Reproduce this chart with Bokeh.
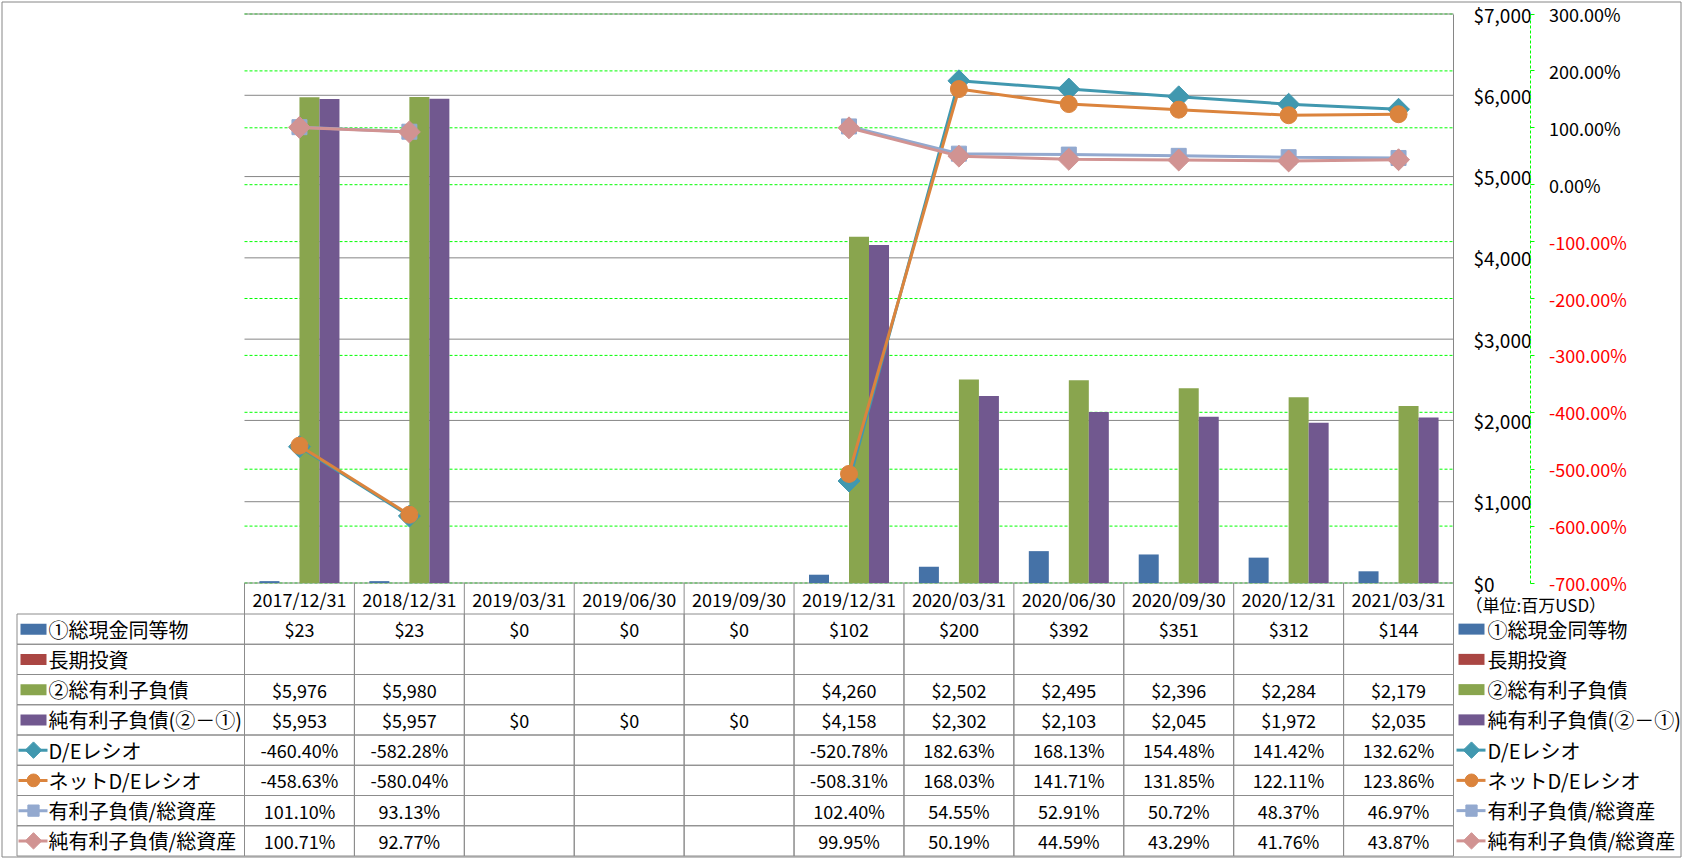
import numpy as np
from bokeh.plotting import figure
from bokeh.models import (ColumnDataSource, Range1d, LinearAxis, FixedTicker,
                          NumeralTickFormatter, PrintfTickFormatter)
from bokeh.transform import dodge
from bokeh.embed import file_html
from bokeh.resources import INLINE
from bokeh.core.properties import value

# ---------------- data ----------------
dates = ["2017/12/31", "2018/12/31", "2019/03/31", "2019/06/30", "2019/09/30",
         "2019/12/31", "2020/03/31", "2020/06/30", "2020/09/30", "2020/12/31", "2021/03/31"]
cash = [23, 23, 0, 0, 0, 102, 200, 392, 351, 312, 144]
lt_invest = [None] * 11
total_debt = [5976, 5980, None, None, None, 4260, 2502, 2495, 2396, 2284, 2179]
net_debt = [5953, 5957, 0, 0, 0, 4158, 2302, 2103, 2045, 1972, 2035]
de_ratio = [-460.40, -582.28, None, None, None, -520.78, 182.63, 168.13, 154.48, 141.42, 132.62]
net_de_ratio = [-458.63, -580.04, None, None, None, -508.31, 168.03, 141.71, 131.85, 122.11, 123.86]
debt_to_assets = [101.10, 93.13, None, None, None, 102.40, 54.55, 52.91, 50.72, 48.37, 46.97]
net_debt_to_assets = [100.71, 92.77, None, None, None, 99.95, 50.19, 44.59, 43.29, 41.76, 43.87]

series_names = ["①総現金同等物", "長期投資", "②総有利子負債", "純有利子負債(②－①)",
                "D/Eレシオ", "ネットD/Eレシオ", "有利子負債/総資産", "純有利子負債/総資産"]
usd_ticks = [0, 1000, 2000, 3000, 4000, 5000, 6000, 7000]
pct_ticks = [-700, -600, -500, -400, -300, -200, -100, 0, 100, 200, 300]
unit_note = "（単位:百万USD）"

# ---------------- styles / layout ----------------
FONT = "Noto Sans CJK JP"
GRAY = "#868686"
TGRAY = "#8c8c8c"
GREEN = "#00FF00"
C_CASH, C_LTI, C_DEBT, C_NET = "#4572A7", "#AA4643", "#89A54E", "#71588F"
C_DE, C_NDE, C_DA, C_NDA = "#4198AF", "#DB843D", "#93A9CF", "#D19392"

W, H = 1685, 858
PAGE = 0
PLOT_L, PLOT_R = 244, 1453      # screen x of plot area
PLOT_T, PLOT_B = 13.5, 582.5    # screen y of plot area
TBL_T, TBL_B = 613.5, 855.5     # screen y of table body
NC = len(dates)
NR = len(series_names)
COLW = (PLOT_R - PLOT_L) / NC
RH = (TBL_B - TBL_T) / NR
USD_MAX, PCT_MIN, PCT_MAX = 7000, -700, 300


def nanify(vals):
    return [np.nan if v is None else v for v in vals]


def sx2u(sx):       # screen x -> column units
    return (sx - PLOT_L) / COLW


def sy2usd(sy):     # screen y -> usd units
    return (PLOT_B - sy) / (PLOT_B - PLOT_T) * USD_MAX


def sy2pct(sy):
    return PCT_MIN + (PLOT_B - sy) / (PLOT_B - PLOT_T) * (PCT_MAX - PCT_MIN)


def sy2row(sy):     # screen y -> table row units (downwards)
    return (sy - TBL_T) / RH


xc = [i + 0.5 for i in range(NC)]
src = ColumnDataSource(dict(
    xc=xc, cash=nanify(cash), lti=nanify(lt_invest), debt=nanify(total_debt),
    net=nanify(net_debt), de=nanify(de_ratio), nde=nanify(net_de_ratio),
    da=nanify(debt_to_assets), nda=nanify(net_debt_to_assets)))

p = figure(width=W, height=H,
           x_range=Range1d(sx2u(PAGE), sx2u(PAGE + W)),
           y_range=Range1d(sy2usd(PAGE + H), sy2usd(PAGE)),
           x_axis_location=None, y_axis_location=None, toolbar_location=None,
           output_backend="svg", min_border=0, outline_line_color=None)
p.extra_y_ranges = {"pct": Range1d(sy2pct(PAGE + H), sy2pct(PAGE)),
                    "tbl": Range1d(sy2row(PAGE + H), sy2row(PAGE))}
p.grid.visible = False

# outer chart border
p.quad(left=[sx2u(1.5)], right=[sx2u(1680.5)], top=[sy2row(1.5)], bottom=[sy2row(856.5)],
       y_range_name="tbl", fill_color=None, line_color=GRAY, line_width=1)

# ---------------- gridlines ----------------
p.segment(x0=[0] * len(pct_ticks), x1=[NC] * len(pct_ticks), y0=pct_ticks, y1=pct_ticks,
          y_range_name="pct", line_color=GREEN, line_dash="3 2", line_width=1)
p.segment(x0=[0] * len(usd_ticks), x1=[NC] * len(usd_ticks), y0=usd_ticks, y1=usd_ticks,
          line_color=GRAY, line_width=1)

# ---------------- bars ----------------
BW = 0.182
for key, col, off in [("cash", C_CASH, -1.5), ("lti", C_LTI, -0.5), ("debt", C_DEBT, 0.5), ("net", C_NET, 1.5)]:
    p.vbar(x=dodge("xc", off * BW), top=key, width=BW, source=src, fill_color=col, line_color=None)

# ---------------- lines ----------------
line_specs = [("de", C_DE, "square", 15.5, np.pi / 4),
              ("nde", C_NDE, "circle", 17, 0.0),
              ("da", C_DA, "square", 15, 0.0),
              ("nda", C_NDA, "square", 15.5, np.pi / 4)]
for key, col, mk, sz, ang in line_specs:
    p.line("xc", key, source=src, y_range_name="pct", line_width=3, line_color=col)
    p.scatter("xc", key, source=src, y_range_name="pct", marker=mk, size=sz, angle=ang,
              fill_color=col, line_color=col)

# ---------------- axes ----------------
ax_usd = LinearAxis(ticker=FixedTicker(ticks=usd_ticks), formatter=NumeralTickFormatter(format="$0,0"),
                    fixed_location=NC, bounds=(0, USD_MAX),
                    axis_line_color=GRAY, major_tick_out=0, major_tick_in=0, minor_tick_line_color=None,
                    major_tick_line_color=None, major_label_standoff=20,
                    major_label_text_font=FONT, major_label_text_font_size="19px",
                    major_label_text_color="black")
p.add_layout(ax_usd, "right")

sec_loc = sx2u(1529.5)
common = dict(y_range_name="pct", formatter=PrintfTickFormatter(format="%.2f%%"), fixed_location=sec_loc,
              bounds=(PCT_MIN, PCT_MAX),
              major_tick_out=4, major_tick_in=0, major_tick_line_color=GREEN, minor_tick_line_color=None,
              major_label_standoff=15, major_label_text_font=FONT, major_label_text_font_size="18px")
ax_pos = LinearAxis(ticker=FixedTicker(ticks=[t for t in pct_ticks if t >= 0]),
                    axis_line_color=GREEN, axis_line_dash="3 2", major_label_text_color="black", **common)
ax_neg = LinearAxis(ticker=FixedTicker(ticks=[t for t in pct_ticks if t < 0]),
                    axis_line_color=None, major_label_text_color="#FF0000", **common)
p.add_layout(ax_pos, "right")
p.add_layout(ax_neg, "right")

# ---------------- data table ----------------
hdr_top = sy2row(PLOT_B)
p.segment(x0=list(range(NC + 1)), x1=list(range(NC + 1)), y0=[hdr_top] * (NC + 1), y1=[0] * (NC + 1),
          y_range_name="tbl", line_color=TGRAY, line_width=1)
p.text(x=xc, y=[hdr_top / 2] * NC, text=dates, y_range_name="tbl", text_font=value(FONT),
       text_font_size="18px", text_align="center", text_baseline="middle", text_color="black")
p.text(x=[sx2u(1465)], y=[sy2row(604)], text=[unit_note], y_range_name="tbl", text_font=value(FONT),
       text_font_size="17px", text_align="left", text_baseline="middle", text_color="black")

rows_vals = [cash, lt_invest, total_debt, net_debt, de_ratio, net_de_ratio, debt_to_assets, net_debt_to_assets]
money_rows = 4

cl, cr, ct, cb = [], [], [], []
for r in range(NR):
    cl.append(sx2u(16.5)); cr.append(0); ct.append(r); cb.append(r + 1)
    for i in range(NC):
        cl.append(i); cr.append(i + 1); ct.append(r); cb.append(r + 1)
p.quad(left=cl, right=cr, top=ct, bottom=cb, y_range_name="tbl",
       fill_color=None, line_color=TGRAY, line_width=1)

tx, ty, tt = [], [], []
for r, vals in enumerate(rows_vals):
    for i, v in enumerate(vals):
        if v is None:
            continue
        tx.append(i + 0.5); ty.append(r + 0.5)
        tt.append(f"${v:,.0f}" if r < money_rows else f"{v:.2f}%")
p.text(x=tx, y=ty, text=tt, y_range_name="tbl", text_font=value(FONT), text_font_size="18px",
       text_align="center", text_baseline="middle", text_color="black")

swatch_cols = [C_CASH, C_LTI, C_DEBT, C_NET]
for x0, x1, xt in [(20, 46, 48), (1458, 1484, 1487)]:
    p.quad(left=[sx2u(x0)] * 4, right=[sx2u(x1)] * 4,
           top=[r + 0.5 - 5.5 / RH for r in range(4)], bottom=[r + 0.5 + 5.5 / RH for r in range(4)],
           y_range_name="tbl", fill_color=swatch_cols, line_color=None)
    for k, (key, col, mk, sz, ang) in enumerate(line_specs):
        r = 4 + k
        p.line(x=[sx2u(x0 - 2), sx2u(x1 + 1)], y=[r + 0.5, r + 0.5], y_range_name="tbl",
               line_width=3, line_color=col)
        p.scatter(x=[sx2u((x0 + x1) / 2)], y=[r + 0.5], y_range_name="tbl", marker=mk,
                  size=sz * 0.75, angle=ang, fill_color=col, line_color=col)
    p.text(x=[sx2u(xt)] * NR, y=[r + 0.5 for r in range(NR)], text=series_names, y_range_name="tbl",
           text_font=value(FONT), text_font_size="20px", text_align="left", text_baseline="middle",
           text_color="black")

open("out.html", "w").write(file_html(p, INLINE))
